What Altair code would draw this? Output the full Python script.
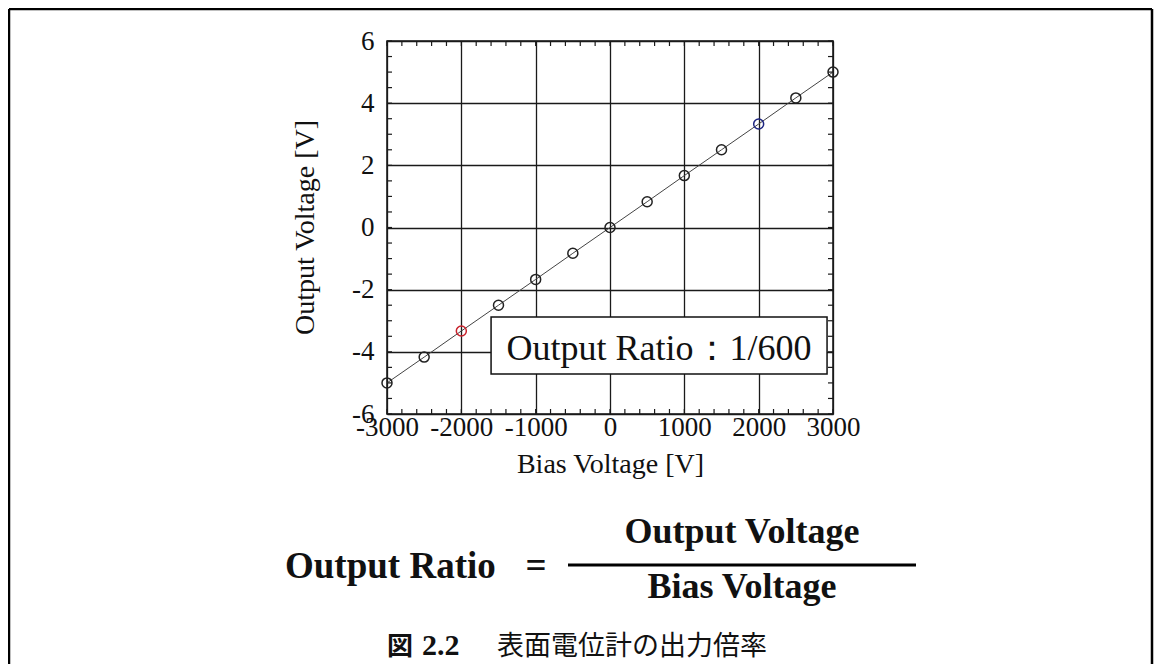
import altair as alt
import pandas as pd

# ---- data ----
bias_voltage = [-3000, -2500, -2000, -1500, -1000, -500, 0, 500, 1000, 1500, 2000, 2500, 3000]
output_voltage = [-5.0, -4.17, -3.33, -2.5, -1.67, -0.83, 0.0, 0.83, 1.67, 2.5, 3.33, 4.17, 5.0]
point_group = ["k", "k", "r", "k", "k", "k", "k", "k", "k", "k", "b", "k", "k"]

x_ticks = [-3000, -2000, -1000, 0, 1000, 2000, 3000]
y_ticks = [-6, -4, -2, 0, 2, 4, 6]
x_minor = [-3000, -2800, -2600, -2400, -2200, -2000, -1800, -1600, -1400, -1200,
           -1000, -800, -600, -400, -200, 0, 200, 400, 600, 800, 1000, 1200, 1400,
           1600, 1800, 2000, 2200, 2400, 2600, 2800, 3000]
y_minor = [-6, -5.5, -5, -4.5, -4, -3.5, -3, -2.5, -2, -1.5, -1, -0.5, 0, 0.5, 1,
           1.5, 2, 2.5, 3, 3.5, 4, 4.5, 5, 5.5, 6]

box_x = [-1600, 2920]
box_y = [-2.88, -4.71]
box_label = "Output Ratio：1/600"
box_label_pos = [660, -4.25]

x_title = "Bias Voltage [V]"
y_title = "Output Voltage [V]"
formula_left = "Output Ratio"
formula_num = "Output Voltage"
formula_den = "Bias Voltage"
caption_fig = "図"
caption_num = "2.2"
caption_text = "表面電位計の出力倍率"

W, H = 446, 373
SERIF = "Liberation Serif"
INK = "#111111"

df = pd.DataFrame({"bias": bias_voltage, "out": output_voltage, "g": point_group})
xs = alt.Scale(domain=[-3000, 3000], nice=False, zero=False)
ys = alt.Scale(domain=[-6, 6], nice=False, zero=False)

xaxis = alt.Axis(values=x_ticks, grid=True, gridColor="#1a1a1a", gridWidth=1.3, gridOpacity=1,
                 ticks=False, domain=False, labelFont=SERIF, labelFontSize=27, labelColor=INK,
                 labelPadding=21, labelBaseline="alphabetic", labelFlush=False, labelOverlap=False,
                 labelExpr="'' + datum.value",
                 title=x_title, titleFont=SERIF, titleFontSize=28, titleFontWeight="normal",
                 titleColor=INK, titleX=223, titleY=58, titleBaseline="alphabetic", titleAlign="center")
yaxis = alt.Axis(values=y_ticks, grid=True, gridColor="#1a1a1a", gridWidth=1.3, gridOpacity=1,
                 ticks=False, domain=False, labelFont=SERIF, labelFontSize=27, labelColor=INK,
                 labelPadding=13, labelBaseline="middle", labelFlush=False, labelOverlap=False,
                 labelExpr="'' + datum.value",
                 title=y_title, titleFont=SERIF, titleFontSize=28, titleFontWeight="normal",
                 titleColor=INK, titleX=-74, titleY=186, titleAngle=270, titleBaseline="alphabetic",
                 titleAlign="center")


def X(field):
    return alt.X(field, scale=xs, axis=xaxis)


def Y(field):
    return alt.Y(field, scale=ys, axis=yaxis)


line = alt.Chart(df).mark_line(color="#444444", strokeWidth=1).encode(
    x=X("bias:Q"), y=Y("out:Q"))

points = alt.Chart(df).mark_point(shape="circle", filled=False, size=100, strokeWidth=1.5, opacity=1).encode(
    x=X("bias:Q"), y=Y("out:Q"),
    color=alt.Color("g:N", scale=alt.Scale(domain=["k", "r", "b"], range=["#222222", "#c8202a", "#1e2580"]),
                    legend=None),
)

xm = pd.DataFrame({"bias": x_minor})
ym = pd.DataFrame({"out": y_minor})
tick_style = dict(color="#1a1a1a", strokeWidth=1.2)
ticks_bottom = alt.Chart(xm).mark_rule(**tick_style).encode(
    x=X("bias:Q"), y=alt.value(H), y2=alt.value(H - 5))
ticks_top = alt.Chart(xm).mark_rule(**tick_style).encode(
    x=X("bias:Q"), y=alt.value(0), y2=alt.value(5))
ticks_left = alt.Chart(ym).mark_rule(**tick_style).encode(
    y=Y("out:Q"), x=alt.value(0), x2=alt.value(5))
ticks_right = alt.Chart(ym).mark_rule(**tick_style).encode(
    y=Y("out:Q"), x=alt.value(W), x2=alt.value(W - 5))

box_df = pd.DataFrame({"bias": [box_x[0]], "x2": [box_x[1]], "out": [box_y[0]], "y2": [box_y[1]]})
box = alt.Chart(box_df).mark_rect(fill="white", stroke=INK, strokeWidth=1.5).encode(
    x=X("bias:Q"), x2="x2:Q", y=Y("out:Q"), y2="y2:Q")

box_txt_df = pd.DataFrame({"bias": [box_label_pos[0]], "out": [box_label_pos[1]], "label": [box_label]})
box_text = alt.Chart(box_txt_df).mark_text(font=SERIF, fontSize=36, align="center",
                                           baseline="alphabetic", color=INK).encode(
    x=X("bias:Q"), y=Y("out:Q"), text="label:N")

one = alt.Data(values=[{"a": 1}])


def txt(s, x, y, size, align="left", weight="bold", font=SERIF):
    return alt.Chart(one).mark_text(text=s, font=font, fontSize=size, fontWeight=weight, align=align,
                                    baseline="alphabetic", color=INK).encode(x=alt.value(x), y=alt.value(y))


def rule(x1, x2, y1, y2, w):
    return alt.Chart(one).mark_rule(color="#000000", strokeWidth=w).encode(
        x=alt.value(x1), x2=alt.value(x2), y=alt.value(y1), y2=alt.value(y2))


formula = [
    txt(formula_left, -102, 537, 37),
    txt("=", 149, 537, 37, align="center"),
    rule(181, 529, 524, 524, 3),
    txt(formula_num, 355, 502, 36, align="center"),
    txt(formula_den, 355, 557, 36, align="center"),
    txt(caption_fig, 0, 614, 26, weight="bold", font="Noto Sans CJK JP"),
    txt(caption_num, 35, 614, 30, weight="bold"),
    txt(caption_text, 110, 614, 27, weight="normal", font="Noto Sans CJK JP"),
]

frame = [
    rule(-378, -378, -32, 623, 2.5),
    rule(765, 765, -32, 623, 2.5),
    rule(-378, 765, -32, -32, 2.5),
]

chart = alt.layer(
    line, ticks_bottom, ticks_top, ticks_left, ticks_right, points, box, box_text, *formula, *frame
).properties(
    width=W, height=H,
    padding={"left": 379, "top": 33, "right": 321, "bottom": 250},
    autosize=alt.AutoSizeParams(type="none"),
).configure_view(stroke=INK, strokeWidth=1.5)

chart.save("out.html", embed_options={"renderer": "svg", "actions": False})
